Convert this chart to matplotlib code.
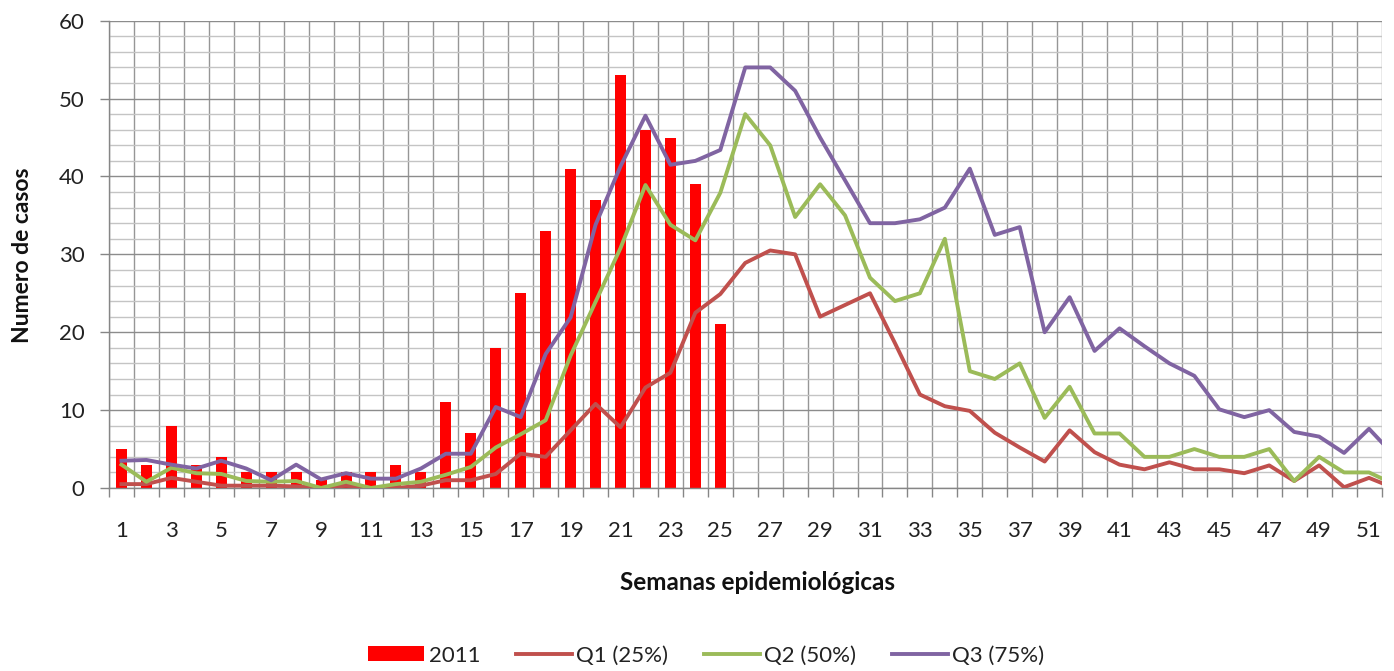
import matplotlib
matplotlib.use("Agg")
import matplotlib.pyplot as plt
from matplotlib.ticker import FixedLocator, MultipleLocator, NullFormatter

plt.rcParams['font.family'] = ['Lato', 'DejaVu Sans']

weeks = list(range(1, 53))
weeks_2011 = list(range(1, 26))
cases_2011 = [5, 3, 8, 3, 4, 2, 2, 2, 1, 2, 2, 3, 2, 11, 7, 18, 25, 33, 41, 37, 53, 46, 45, 39, 21]

q1 = [0.5, 0.5, 1.3, 0.8, 0.3, 0.3, 0.3, 0.2, 0.0, 0.3, 0.0, 0.0, 0.3, 1.0, 1.0, 1.8,
      4.4, 4.0, 7.4, 10.8, 7.8, 12.9, 14.8, 22.5, 24.9, 28.9, 30.5, 30.0, 22.0, 23.5,
      25.0, 18.6, 12.0, 10.5, 9.9, 7.1, 5.2, 3.4, 7.4, 4.6, 3.0, 2.4, 3.3, 2.4, 2.4,
      1.9, 2.9, 0.9, 2.9, 0.1, 1.3, 0.0]
q2 = [3.0, 0.8, 2.6, 1.9, 1.8, 0.9, 0.8, 0.9, 0.0, 0.8, 0.0, 0.5, 0.8, 1.7, 2.7, 5.2,
      6.9, 8.7, 17.0, 23.9, 30.8, 38.9, 33.8, 31.8, 37.9, 48.0, 44.0, 34.8, 39.0, 35.0,
      27.0, 24.0, 25.0, 32.0, 15.0, 14.0, 16.0, 9.0, 13.0, 7.0, 7.0, 4.0, 4.0, 5.0, 4.0,
      4.0, 5.0, 0.9, 4.0, 2.0, 2.0, 0.5]
q3 = [3.5, 3.6, 3.0, 2.5, 3.5, 2.5, 1.0, 3.0, 1.1, 1.9, 1.2, 1.2, 2.5, 4.4, 4.4, 10.4,
      9.1, 17.2, 21.9, 33.8, 41.3, 47.8, 41.5, 42.0, 43.4, 54.0, 54.0, 51.0, 45.0, 39.5,
      34.0, 34.0, 34.5, 36.0, 41.0, 32.5, 33.5, 20.0, 24.5, 17.6, 20.5, 18.2, 16.0, 14.4,
      10.1, 9.1, 10.0, 7.2, 6.6, 4.5, 7.6, 4.2]

week_labels = [str(w) for w in range(1, 52, 2)]

fig = plt.figure(figsize=(13.94, 6.71), dpi=100)
ax = fig.add_axes([109 / 1394, 1 - 488 / 671, (1381.5 - 109) / 1394, (488 - 20.7) / 671])

ax.bar(weeks_2011, cases_2011, width=0.44, color='#FF0000', label='2011', zorder=2)
ax.plot(weeks, q1, color='#C0504D', lw=2.8, label='Q1 (25%)', zorder=3)
ax.plot(weeks, q2, color='#9BBB59', lw=2.8, label='Q2 (50%)', zorder=3)
ax.plot(weeks, q3, color='#8064A2', lw=2.8, label='Q3 (75%)', zorder=3)

ax.set_xlim(0.5, 51.5)
ax.set_ylim(0, 60)

# y axis
ax.yaxis.set_major_locator(MultipleLocator(10))
ax.yaxis.set_minor_locator(MultipleLocator(2))
ax.tick_params(axis='y', which='major', length=6.5, width=1, color='#868686',
               labelsize=16, pad=11, labelcolor='#222222')
ax.tick_params(axis='y', which='minor', length=0)

# x axis: boundaries as major ticks (grid + tick marks), labels at odd week centers
ax.xaxis.set_major_locator(FixedLocator([w + 0.5 for w in range(0, 52)]))
ax.xaxis.set_major_formatter(NullFormatter())
ax.xaxis.set_minor_locator(FixedLocator(list(range(1, 52, 2))))
ax.set_xticklabels(week_labels, minor=True)
ax.tick_params(axis='x', which='major', length=6.5, width=1, color='#868686')
ax.tick_params(axis='x', which='minor', length=0, labelsize=16, pad=24, labelcolor='#222222')

ax.set_axisbelow(True)
ax.grid(which='major', axis='x', color='#969696', lw=1.0)
ax.grid(which='major', axis='y', color='#8c8c8c', lw=1.0)
ax.grid(which='minor', axis='y', color='#c4c4c4', lw=1.0)

for s in ['top', 'right']:
    ax.spines[s].set_visible(False)
for s in ['left', 'bottom']:
    ax.spines[s].set_color('#868686')
    ax.spines[s].set_linewidth(1.0)

fig.text(23 / 1394, 1 - 255 / 671, 'Numero de casos', rotation=90, ha='center', va='center',
         fontsize=16.5, fontweight='bold', color='#111111')
fig.text(757 / 1394, 1 - 583 / 671, 'Semanas epidemiológicas', ha='center', va='center',
         fontsize=17.5, fontweight='bold', color='#111111')

handles, labels = ax.get_legend_handles_labels()
order = [labels.index(l) for l in ['2011', 'Q1 (25%)', 'Q2 (50%)', 'Q3 (75%)']]
leg = fig.legend([handles[i] for i in order], [labels[i] for i in order],
                 loc='center', bbox_to_anchor=(706.5 / 1394, 1 - 655.5 / 671), ncol=4,
                 frameon=False, fontsize=16, handlelength=2.5, handletextpad=0.22,
                 columnspacing=1.6, handleheight=0.68, borderpad=0.2)
for t in leg.get_texts():
    t.set_color('#222222')

fig.savefig('out.png', dpi=100)
